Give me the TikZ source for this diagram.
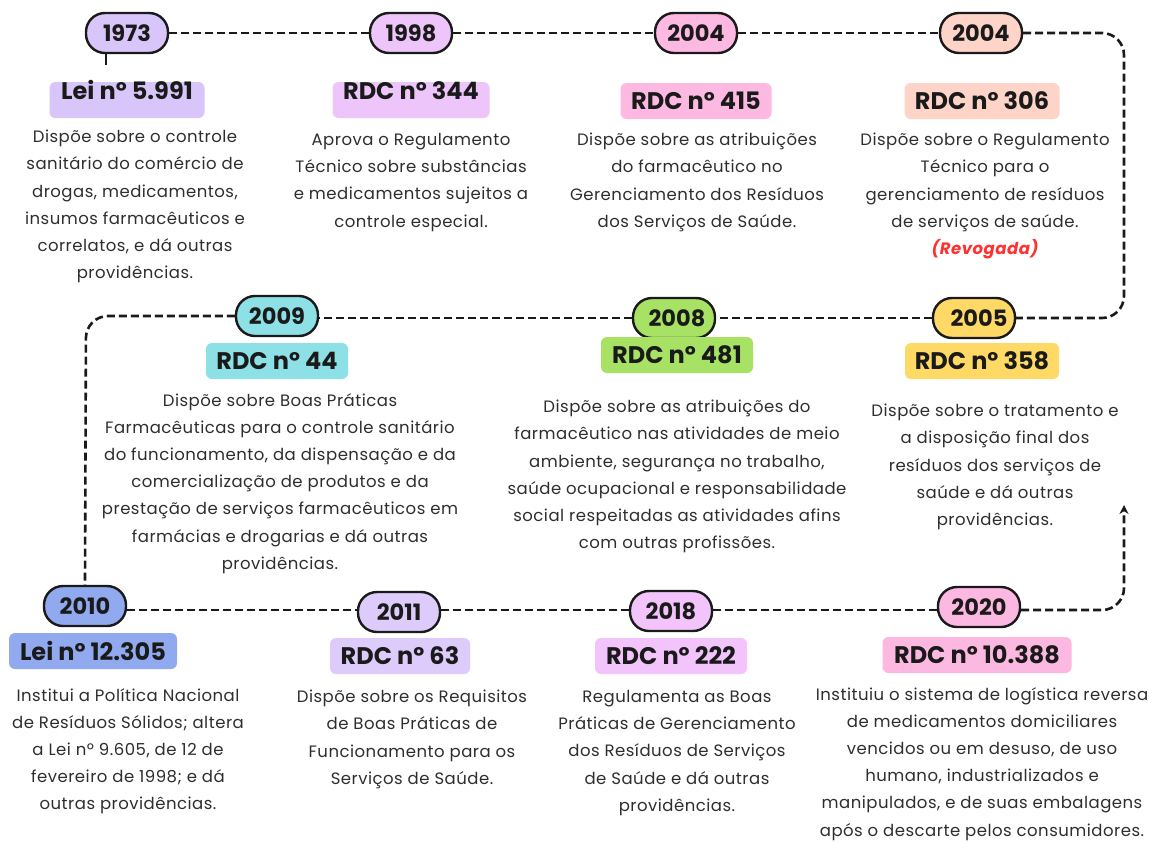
\documentclass[tikz,border=0pt]{standalone}
\usepackage{fontspec}
\setmainfont{Poppins}
\newfontfamily\descfont{Poppins}[LetterSpace=3]
\usetikzlibrary{arrows.meta}
\definecolor{ink}{HTML}{1A1A1A}
\definecolor{txt}{HTML}{2E2E2E}
\definecolor{c73}{HTML}{D8C6FA}
\definecolor{c98}{HTML}{EEC5FB}
\definecolor{c04a}{HTML}{FDB9E1}
\definecolor{c04b}{HTML}{FDD4C7}
\definecolor{c05}{HTML}{FFD966}
\definecolor{c08}{HTML}{A7E265}
\definecolor{c09}{HTML}{8CE0E6}
\definecolor{c10}{HTML}{91A9EF}
\definecolor{c11}{HTML}{DCCBFB}
\definecolor{c18}{HTML}{F2C4FB}
\definecolor{c20}{HTML}{FDB8E2}
\definecolor{revo}{HTML}{FF3131}
\tikzset{
  x=1pt, y=-1pt,
  pill/.style={draw=ink, line width=2.4pt, rounded corners=19pt, minimum width=82pt, minimum height=40pt, inner sep=0pt, font=\fontsize{22.5}{25}\selectfont\bfseries, text=ink},
  lbox/.style={rounded corners=6pt, minimum height=36pt, inner xsep=7pt, inner ysep=0pt, font=\fontsize{24}{26}\selectfont\bfseries, text=ink},
  desc/.style={align=center, anchor=north, inner sep=0pt, font=\descfont\fontsize{16.5}{27.2}\selectfont, text=txt},
  dline/.style={draw=ink, line width=2.6pt, dash pattern=on 8pt off 4pt, rounded corners=22pt},
}
\begin{document}
\begin{tikzpicture}
\useasboundingbox[fill=white] (0,0) rectangle (1149,841);
% year pills
\node[pill, fill=c73] (y73) at (127,33) {1973};
\node[pill, fill=c98] (y98) at (411,33) {1998};
\node[pill, fill=c04a] (y04a) at (696,33) {2004};
\node[pill, fill=c04b] (y04b) at (981,33) {2004};
\node[pill, fill=c05] (y05) at (974,318) {\hspace*{10pt}2005};
\node[pill, fill=c08] (y08) at (674,318) {\hspace*{6pt}2008};
\node[pill, fill=c09] (y09) at (277,316) {2009};
\node[pill, fill=c10] (y10) at (85,606) {2010};
\node[pill, fill=c11] (y11) at (399,612) {2011};
\node[pill, fill=c18] (y18) at (671,611) {2018};
\node[pill, fill=c20] (y20) at (979,607) {2020};
% connectors
\coordinate (tr1) at (1124,33);
\coordinate (tr2) at (1124,318);
\coordinate (ml1) at (86,316);
\coordinate (br1) at (1124,610);
\coordinate (tip) at (1124,505);
\coordinate (tk) at (106,65);
\draw[dline] (y73) -- (y98);
\draw[dline] (y98) -- (y04a);
\draw[dline] (y04a) -- (y04b);
\draw[dline] (y04b.east) -- (tr1) -- (tr2) -- (y05.east);
\draw[dline] (y05) -- (y08);
\draw[dline] (y08.west) -- (y09.east |- y08.west);
\draw[dline] (y09.west) -- (ml1) -- (y10.north);
\draw[dline] (y10.east |- br1) -- (y11.west |- br1);
\draw[dline] (y11.east |- br1) -- (y18.west |- br1);
\draw[dline] (y18.east |- br1) -- (y20.west |- br1);
\draw[dline, -{Stealth[length=9pt,width=9pt]}] (y20.east |- br1) -- (br1) -- (tip);
\draw[draw=ink, line width=2.4pt] (y73.south -| tk) -- (tk);
% label boxes
\node[lbox, fill=c73, minimum width=155pt, text height=17pt, text depth=19pt] (l73) at (127,100) {Lei nº 5.991};
\node[lbox, fill=c98, minimum width=157pt, text height=17pt, text depth=19pt] (l98) at (411,100) {RDC nº 344};
\node[lbox, fill=c04a, minimum width=151pt] (l04a) at (696,101) {RDC nº 415};
\node[lbox, fill=c04b, minimum width=155pt] (l04b) at (982,101) {RDC nº 306};
\node[lbox, fill=c05, minimum width=154pt] (l05) at (982,361) {RDC nº 358};
\node[lbox, fill=c08, minimum width=152pt] (l08) at (677,355) {RDC nº 481};
\node[lbox, fill=c09, minimum width=142pt] (l09) at (277,361) {RDC nº 44};
\node[lbox, fill=c10, minimum width=168pt] (l10) at (93,651) {Lei nº 12.305};
\node[lbox, fill=c11, minimum width=140pt] (l11) at (400,656) {RDC nº 63};
\node[lbox, fill=c18, minimum width=152pt] (l18) at (671,656) {RDC nº 222};
\node[lbox, fill=c20, minimum width=189pt] (l20) at (977,655) {RDC nº 10.388};
% descriptions
\node[desc] (d73) at (135,130) {Dispõe sobre o controle\\sanitário do comércio de\\drogas, medicamentos,\\insumos farmacêuticos e\\correlatos, e dá outras\\providências.};
\node[desc] (d98) at (411,133) {Aprova o Regulamento\\Técnico sobre substâncias\\e medicamentos sujeitos a\\controle especial.};
\node[desc] (d04a) at (697,133) {Dispõe sobre as atribuições\\do farmacêutico no\\Gerenciamento dos Resíduos\\dos Serviços de Saúde.};
\node[desc] (d04b) at (985,133) {Dispõe sobre o Regulamento\\Técnico para o\\gerenciamento de resíduos\\de serviços de saúde.\\{\color{revo}\bfseries\itshape (Revogada)}};
\node[desc] (d09) at (280,393) {Dispõe sobre Boas Práticas\\Farmacêuticas para o controle sanitário\\do funcionamento, da dispensação e da\\comercialização de produtos e da\\prestação de serviços farmacêuticos em\\farmácias e drogarias e dá outras\\providências.};
\node[desc] (d08) at (677,400) {Dispõe sobre as atribuições do\\farmacêutico nas atividades de meio\\ambiente, segurança no trabalho,\\saúde ocupacional e responsabilidade\\social respeitadas as atividades afins\\com outras profissões.};
\node[desc] (d05) at (995,404) {Dispõe sobre o tratamento e\\a disposição final dos\\resíduos dos serviços de\\saúde e dá outras\\providências.};
\node[desc] (d10) at (128,688) {Institui a Política Nacional\\de Resíduos Sólidos; altera\\a Lei nº 9.605, de 12 de\\fevereiro de 1998; e dá\\outras providências.};
\node[desc] (d11) at (412,690) {Dispõe sobre os Requisitos\\de Boas Práticas de\\Funcionamento para os\\Serviços de Saúde.};
\node[desc] (d18) at (677,690) {Regulamenta as Boas\\Práticas de Gerenciamento\\dos Resíduos de Serviços\\de Saúde e dá outras\\providências.};
\node[desc] (d20) at (982,687) {Instituiu o sistema de logística reversa\\de medicamentos domiciliares\\vencidos ou em desuso, de uso\\humano, industrializados e\\manipulados, e de suas embalagens\\após o descarte pelos consumidores.};
\end{tikzpicture}
\end{document}
